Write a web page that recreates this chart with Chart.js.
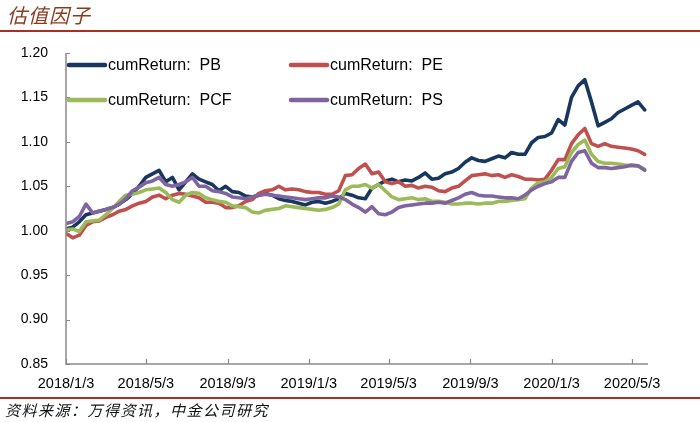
<!DOCTYPE html>
<html>
<head>
<meta charset="utf-8">
<script src="https://cdn.jsdelivr.net/npm/chart.js@4.4.1/dist/chart.umd.min.js"></script>
<style>
  html, body { margin: 0; padding: 0; background: #fff; }
  #wrap { position: relative; width: 700px; height: 422px; overflow: hidden; }
  #c { position: absolute; left: 0; top: 0; }
  #title { position: absolute; left: 7px; top: 2px; font: italic 20px "Noto Sans CJK SC", sans-serif; color: #8B3A1E; letter-spacing: 1px; line-height: 26px; white-space: nowrap; }
  #ruleTop { position: absolute; left: 0; top: 30px; width: 700px; height: 2px; background: #A8321E; }
  #ruleBottom { position: absolute; left: 0; top: 397px; width: 700px; height: 1.5px; background: #A8321E; }
  #footer { position: absolute; left: 5px; top: 400px; font: italic 15px "Noto Sans CJK SC", sans-serif; color: #111; letter-spacing: 1.5px; line-height: 20px; white-space: nowrap; }
</style>
</head>
<body>
<div id="wrap">
  <canvas id="c" width="700" height="422"></canvas>
  <div id="title">估值因子</div>
  <div id="ruleTop"></div>
  <div id="ruleBottom"></div>
  <div id="footer">资料来源：万得资讯，中金公司研究</div>
</div>
<script>
// ---- data ----
const startDate = '2018/1/3';
const stepDays = 10; // sampling interval of the series below (calendar days from start)
const tickLabels = ['2018/1/3','2018/5/3','2018/9/3','2019/1/3','2019/5/3','2019/9/3','2020/1/3','2020/5/3'];
const yTickValues = [0.85, 0.90, 0.95, 1.00, 1.05, 1.10, 1.15, 1.20];
const seriesNames = ['cumReturn:  PB', 'cumReturn:  PE', 'cumReturn:  PCF', 'cumReturn:  PS'];
const seriesColors = ['#17375E', '#C0504D', '#9BBB59', '#8064A2'];

const pb = [
  1.002, 1.004, 1.010, 1.018, 1.020, 1.022, 1.024, 1.026, 1.030, 1.035,
  1.042, 1.050, 1.060, 1.064, 1.068, 1.055, 1.060, 1.046, 1.055, 1.064,
  1.058, 1.055, 1.052, 1.045, 1.050, 1.044, 1.043, 1.039, 1.038, 1.040,
  1.042, 1.040, 1.036, 1.034, 1.033, 1.031, 1.029, 1.032, 1.033, 1.031,
  1.033, 1.036, 1.042, 1.040, 1.037, 1.036, 1.048, 1.052, 1.056, 1.058,
  1.055, 1.057, 1.056, 1.060, 1.065, 1.058, 1.059, 1.064, 1.066, 1.070,
  1.077, 1.082, 1.079, 1.078, 1.081, 1.084, 1.082, 1.088, 1.086, 1.086,
  1.099, 1.105, 1.106, 1.110, 1.125, 1.119, 1.150, 1.163, 1.170, 1.145,
  1.118, 1.122, 1.126, 1.133, 1.137, 1.141, 1.145, 1.136
];
const pe = [
  0.997, 0.992, 0.995, 1.006, 1.010, 1.011, 1.015, 1.018, 1.022, 1.024,
  1.028, 1.031, 1.033, 1.038, 1.040, 1.036, 1.040, 1.042, 1.041, 1.039,
  1.037, 1.032, 1.032, 1.031, 1.026, 1.026, 1.028, 1.033, 1.035, 1.042,
  1.045, 1.046, 1.050, 1.046, 1.047, 1.046, 1.044, 1.043, 1.043, 1.041,
  1.041, 1.045, 1.062, 1.063, 1.070, 1.075, 1.064, 1.066, 1.055, 1.053,
  1.055, 1.050, 1.051, 1.048, 1.050, 1.049, 1.045, 1.044, 1.048, 1.050,
  1.056, 1.062, 1.063, 1.064, 1.062, 1.063, 1.060, 1.063, 1.061, 1.058,
  1.058, 1.057, 1.058, 1.068, 1.080, 1.080, 1.098, 1.108, 1.115, 1.098,
  1.095, 1.098, 1.095, 1.094, 1.093, 1.092, 1.090, 1.086
];
const pcf = [
  1.001, 1.002, 0.999, 1.010, 1.011, 1.012, 1.018, 1.025, 1.033, 1.040,
  1.041, 1.043, 1.046, 1.047, 1.048, 1.043, 1.035, 1.032, 1.040, 1.043,
  1.042, 1.037, 1.035, 1.033, 1.032, 1.028, 1.027, 1.026, 1.021, 1.020,
  1.023, 1.024, 1.025, 1.028, 1.027, 1.026, 1.025, 1.024, 1.023, 1.024,
  1.026, 1.030, 1.046, 1.050, 1.050, 1.052, 1.048, 1.052, 1.045, 1.038,
  1.035, 1.036, 1.037, 1.035, 1.036, 1.033, 1.033, 1.032, 1.030, 1.030,
  1.031, 1.031, 1.030, 1.031, 1.031, 1.033, 1.033, 1.034, 1.035, 1.036,
  1.048, 1.054, 1.055, 1.060, 1.070, 1.072, 1.088, 1.097, 1.102, 1.086,
  1.078, 1.076, 1.076, 1.075, 1.074, 1.073, 1.073, 1.069
];
const ps = [
  1.008, 1.010, 1.016, 1.030, 1.020, 1.022, 1.024, 1.026, 1.030, 1.036,
  1.045, 1.049, 1.054, 1.056, 1.060, 1.052, 1.050, 1.052, 1.055, 1.060,
  1.050, 1.050, 1.045, 1.044, 1.042, 1.038, 1.037, 1.036, 1.038, 1.040,
  1.041, 1.040, 1.039, 1.038, 1.037, 1.036, 1.035, 1.036, 1.037, 1.037,
  1.039, 1.038, 1.035, 1.030, 1.026, 1.021, 1.027, 1.019, 1.018, 1.021,
  1.026, 1.028, 1.029, 1.030, 1.031, 1.031, 1.032, 1.031, 1.034, 1.037,
  1.041, 1.043, 1.040, 1.039, 1.039, 1.038, 1.037, 1.037, 1.036, 1.040,
  1.046, 1.050, 1.053, 1.055, 1.060, 1.060, 1.078, 1.088, 1.090, 1.076,
  1.071, 1.071, 1.070, 1.071, 1.072, 1.074, 1.073, 1.068
];
const seriesValues = [pb, pe, pcf, ps];

// ---- helpers ----
function dayOffset(label) {
  const [y, m, d] = label.split('/').map(Number);
  const [y0, m0, d0] = startDate.split('/').map(Number);
  return Math.round((Date.UTC(y, m - 1, d) - Date.UTC(y0, m0 - 1, d0)) / 86400000);
}
const tickDays = tickLabels.map(dayOffset);
const axisEndDay = 875;

const datasets = seriesValues.map((vals, si) => ({
  label: seriesNames[si],
  data: vals.map((v, i) => ({ x: i * stepDays, y: v })),
  borderColor: seriesColors[si],
  backgroundColor: seriesColors[si],
  borderWidth: 3.6,
  pointRadius: 0,
  tension: 0,
  borderJoinStyle: 'round',
  borderCapStyle: 'round',
  order: 4 - si
}));

const AXIS_COLOR = '#8A8A8A';
const axisPlugin = {
  id: 'axisPlugin',
  afterDatasetsDraw(chart) {
    const { ctx, chartArea: a, scales: { x, y } } = chart;
    ctx.save();
    ctx.strokeStyle = AXIS_COLOR;
    ctx.lineWidth = 1.5;
    ctx.beginPath();
    ctx.moveTo(a.left, a.top);
    ctx.lineTo(a.left, a.bottom);
    ctx.lineTo(a.right, a.bottom);
    ctx.stroke();
    ctx.lineWidth = 1.2;
    ctx.beginPath();
    yTickValues.forEach(v => {
      const py = Math.round(y.getPixelForValue(v)) + 0.5;
      ctx.moveTo(a.left, py);
      ctx.lineTo(a.left + 4, py);
    });
    tickDays.forEach(dv => {
      const px = Math.round(x.getPixelForValue(dv)) + 0.5;
      ctx.moveTo(px, a.bottom);
      ctx.lineTo(px, a.bottom - 5);
    });
    ctx.stroke();

    // legend (2 x 2, inside plot area)
    const cols = [67, 289];
    const rows = [65, 100];
    ctx.font = '16px "Liberation Sans", Arial, sans-serif';
    ctx.textBaseline = 'middle';
    ctx.textAlign = 'left';
    seriesNames.forEach((name, i) => {
      const cx = cols[i % 2], cy = rows[Math.floor(i / 2)];
      ctx.strokeStyle = seriesColors[i];
      ctx.lineWidth = 4.5;
      ctx.lineCap = 'round';
      ctx.beginPath();
      ctx.moveTo(cx + 2, cy);
      ctx.lineTo(cx + 38, cy);
      ctx.stroke();
      ctx.fillStyle = '#000';
      ctx.fillText(name, cx + 41, cy + 1);
    });
    ctx.restore();
  }
};

new Chart(document.getElementById('c'), {
  type: 'line',
  data: { datasets },
  options: {
    responsive: false,
    animation: false,
    devicePixelRatio: 1,
    layout: { padding: { left: 0, right: 52, top: 53, bottom: 0 } },
    plugins: { legend: { display: false }, tooltip: { enabled: false } },
    scales: {
      x: {
        type: 'linear',
        min: 0,
        max: axisEndDay,
        afterFit(s) { s.height = 58; },
        afterBuildTicks(s) { s.ticks = tickDays.map(v => ({ value: v })); },
        grid: { display: false, drawTicks: false },
        border: { display: false },
        ticks: {
          autoSkip: false,
          maxRotation: 0,
          padding: 11,
          color: '#000',
          font: { family: '"Liberation Sans", Arial, sans-serif', size: 14.5 },
          callback(v) { const k = tickDays.indexOf(v); return k >= 0 ? tickLabels[k] : ''; }
        }
      },
      y: {
        type: 'linear',
        min: 0.85,
        max: 1.20,
        afterFit(s) { s.width = 66; },
        afterBuildTicks(s) { s.ticks = yTickValues.map(v => ({ value: v })); },
        grid: { display: false, drawTicks: false },
        border: { display: false },
        ticks: {
          padding: 18,
          color: '#000',
          font: { family: '"Liberation Sans", Arial, sans-serif', size: 14 },
          callback(v) { return Number(v).toFixed(2); }
        }
      }
    }
  },
  plugins: [axisPlugin]
});
</script>
</body>
</html>
